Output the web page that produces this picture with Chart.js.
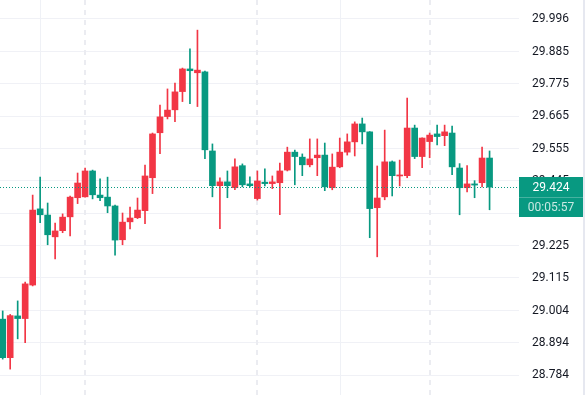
<!DOCTYPE html>
<html>
<head>
<meta charset="utf-8">
<script src="https://cdn.jsdelivr.net/npm/chart.js@4.4.1/dist/chart.umd.min.js"></script>
<style>
  html, body { margin: 0; padding: 0; background: #ffffff; }
  #wrap { width: 585px; height: 395px; position: relative; }
</style>
</head>
<body>
<div id="wrap"><canvas id="priceChart"></canvas></div>
<script>
// candle values, one per bar, oldest first
const openPrices = [
    28.975, 28.844, 28.986, 28.977, 29.091, 29.350, 29.329, 29.255, 29.276, 29.323,
    29.388, 29.391, 29.479, 29.397, 29.390, 29.360, 29.245, 29.306, 29.320, 29.344,
    29.456, 29.609, 29.664, 29.687, 29.749, 29.826, 29.813, 29.816, 29.547, 29.429,
    29.442, 29.422, 29.497, 29.435, 29.385, 29.441, 29.436, 29.439, 29.482, 29.543,
    29.526, 29.500, 29.524, 29.533, 29.422, 29.493, 29.543, 29.578, 29.639, 29.612,
    29.354, 29.391, 29.510, 29.462, 29.463, 29.625, 29.528, 29.579, 29.605, 29.599,
    29.608, 29.489, 29.422, 29.435, 29.439, 29.523
];
const highPrices = [
    29.003, 28.991, 29.037, 29.101, 29.397, 29.458, 29.370, 29.302, 29.333, 29.394,
    29.472, 29.489, 29.482, 29.452, 29.458, 29.363, 29.336, 29.356, 29.387, 29.499,
    29.608, 29.703, 29.758, 29.778, 29.829, 29.894, 29.958, 29.819, 29.571, 29.456,
    29.479, 29.520, 29.503, 29.459, 29.479, 29.486, 29.462, 29.506, 29.560, 29.550,
    29.537, 29.588, 29.588, 29.574, 29.537, 29.591, 29.605, 29.646, 29.659, 29.613,
    29.496, 29.618, 29.513, 29.516, 29.727, 29.635, 29.592, 29.608, 29.635, 29.635,
    29.632, 29.504, 29.497, 29.446, 29.560, 29.547
];
const lowPrices = [
    28.839, 28.805, 28.908, 28.895, 29.088, 29.303, 29.228, 29.180, 29.269, 29.258,
    29.368, 29.390, 29.384, 29.378, 29.337, 29.193, 29.228, 29.282, 29.317, 29.300,
    29.402, 29.538, 29.656, 29.647, 29.715, 29.708, 29.698, 29.521, 29.391, 29.283,
    29.388, 29.415, 29.425, 29.425, 29.380, 29.428, 29.419, 29.330, 29.479, 29.432,
    29.463, 29.493, 29.463, 29.412, 29.415, 29.490, 29.533, 29.530, 29.571, 29.252,
    29.187, 29.381, 29.394, 29.428, 29.456, 29.521, 29.490, 29.524, 29.568, 29.565,
    29.466, 29.330, 29.408, 29.388, 29.425, 29.347
];
const closePrices = [
    28.844, 28.987, 28.977, 29.095, 29.346, 29.330, 29.262, 29.275, 29.322, 29.390,
    29.438, 29.479, 29.398, 29.388, 29.360, 29.244, 29.305, 29.319, 29.346, 29.462,
    29.605, 29.663, 29.686, 29.748, 29.826, 29.820, 29.822, 29.551, 29.429, 29.442,
    29.429, 29.493, 29.432, 29.429, 29.445, 29.436, 29.442, 29.479, 29.543, 29.528,
    29.500, 29.520, 29.533, 29.425, 29.492, 29.543, 29.578, 29.639, 29.612, 29.351,
    29.387, 29.510, 29.463, 29.465, 29.625, 29.528, 29.591, 29.601, 29.596, 29.612,
    29.493, 29.422, 29.435, 29.431, 29.523, 29.424
];

// price axis labels
const priceTicks = [
    '29.996', '29.885', '29.775', '29.665', '29.555', '29.445',
    '29.335', '29.225', '29.115', '29.004', '28.894', '28.784'
];

// bar countdown shown under the last price
const countdownText = '00:05:57';

// up candles are red, down candles are green
const upColor = '#f23645';
const downColor = '#089981';

const candleColors = closePrices.map((c, i) => (c >= openPrices[i] ? upColor : downColor));
const lastPrice = closePrices[closePrices.length - 1];

const bodyData = openPrices.map((o, i) => ({
    x: i,
    y: [Math.min(o, closePrices[i]), Math.max(o, closePrices[i])]
}));
const wickData = openPrices.map((o, i) => ({
    x: i,
    y: [lowPrices[i], highPrices[i]]
}));

// session separators and day marks (in bar index units)
const overlayPlugin = {
    id: 'overlay',
    beforeDatasetsDraw(chart) {
        const { ctx, chartArea, scales } = chart;
        ctx.save();
        // solid session lines
        ctx.strokeStyle = '#eff1f6';
        ctx.lineWidth = 1;
        [5, 45].forEach(v => {
            const x = Math.round(scales.x.getPixelForValue(v)) + 0.5;
            ctx.beginPath();
            ctx.moveTo(x, chartArea.top);
            ctx.lineTo(x, chartArea.bottom);
            ctx.stroke();
        });
        // dashed day lines
        ctx.strokeStyle = '#ebecf1';
        ctx.lineWidth = 2;
        ctx.setLineDash([5, 5]);
        [11, 34, 57].forEach(v => {
            const x = Math.round(scales.x.getPixelForValue(v));
            ctx.beginPath();
            ctx.moveTo(x, chartArea.top);
            ctx.lineTo(x, chartArea.bottom);
            ctx.stroke();
        });
        ctx.restore();
    },
    afterDatasetsDraw(chart) {
        const { ctx, chartArea, scales } = chart;
        const y = Math.round(scales.y.getPixelForValue(lastPrice)) + 0.5;
        ctx.save();
        ctx.strokeStyle = downColor;
        ctx.lineWidth = 1;
        ctx.setLineDash([1, 2]);
        ctx.beginPath();
        ctx.moveTo(chartArea.left, y);
        ctx.lineTo(chartArea.right, y);
        ctx.stroke();
        ctx.restore();
    },
    afterDraw(chart) {
        const { ctx, chartArea, scales, width, height } = chart;
        const y = Math.round(scales.y.getPixelForValue(lastPrice));
        const left = chartArea.right;
        const boxW = width - 2 - left;
        ctx.save();
        // last price box
        ctx.fillStyle = downColor;
        ctx.fillRect(left, y - 10, boxW, 40);
        ctx.fillStyle = 'rgba(255,255,255,0.25)';
        ctx.fillRect(left, y + 10, boxW, 1);
        ctx.font = '12px Roboto, "Liberation Sans", sans-serif';
        ctx.textAlign = 'center';
        ctx.textBaseline = 'middle';
        ctx.fillStyle = '#ffffff';
        ctx.fillText(lastPrice.toFixed(3), left + boxW / 2, y + 0.5);
        ctx.fillStyle = 'rgba(255,255,255,0.78)';
        ctx.fillText(countdownText, left + boxW / 2, y + 20.5);
        // right edge border
        ctx.fillStyle = '#e6e8f0';
        ctx.fillRect(width - 2, 0, 2, height);
        ctx.restore();
    }
};

const ctx = document.getElementById('priceChart').getContext('2d');
new Chart(ctx, {
    type: 'bar',
    data: {
        datasets: [
            {
                label: 'body',
                data: bodyData,
                backgroundColor: candleColors,
                borderWidth: 0,
                barThickness: 6,
                minBarLength: 1,
                grouped: false
            },
            {
                label: 'wick',
                data: wickData,
                backgroundColor: candleColors,
                borderWidth: 0,
                barThickness: 1,
                grouped: false
            }
        ]
    },
    options: {
        responsive: true,
        maintainAspectRatio: false,
        devicePixelRatio: 1,
        animation: false,
        layout: { padding: 0 },
        plugins: {
            legend: { display: false },
            tooltip: { enabled: false }
        },
        scales: {
            x: {
                type: 'linear',
                display: false,
                offset: false,
                min: -0.36,
                max: 68.93
            },
            y: {
                type: 'linear',
                position: 'right',
                min: 28.717,
                max: 30.0605,
                afterBuildTicks: (scale) => {
                    scale.ticks = priceTicks.map(t => ({ value: parseFloat(t) }));
                },
                afterFit: (scale) => {
                    scale.width = 66;
                    scale.paddingTop = 0;
                    scale.paddingBottom = 0;
                },
                grid: {
                    color: '#f0f1f6',
                    drawTicks: false
                },
                border: { display: false },
                ticks: {
                    padding: 13,
                    color: '#131722',
                    font: { family: 'Roboto, "Liberation Sans", sans-serif', size: 12 },
                    callback: (v) => v.toFixed(3)
                }
            }
        }
    },
    plugins: [overlayPlugin]
});
</script>
</body>
</html>
